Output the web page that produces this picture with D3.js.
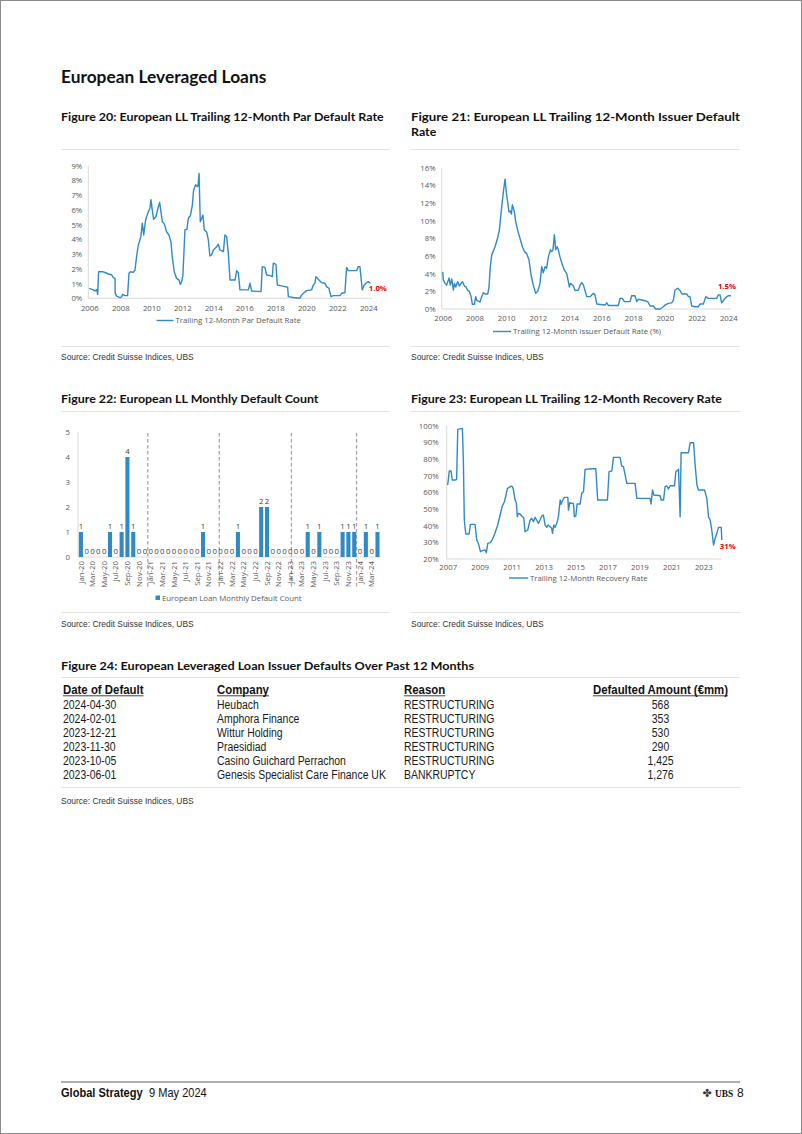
<!DOCTYPE html>
<html><head><meta charset="utf-8">
<script src="https://cdn.jsdelivr.net/npm/d3@7"></script>
<style>
html,body{margin:0;padding:0;background:#fff}
svg{display:block}
</style></head><body>
<svg id="page" width="802" height="1134"></svg>
<script>
// ---------------- DATA ----------------
const parYearTicks = [2006,2008,2010,2012,2014,2016,2018,2020,2022,2024];
const parRateTicks = [0,1,2,3,4,5,6,7,8,9];
const parRate = [ // [year, % par default rate]
[2006.0,0.68],[2006.26,0.57],[2006.37,0.5],[2006.47,0.6],[2006.54,0.27],[2006.6,1.8],[2006.9,1.8],[2007.01,1.75],
[2007.23,1.65],[2007.44,1.6],[2007.55,1.4],[2007.66,1.35],[2007.67,0.35],[2007.76,0.15],[2007.98,0.05],[2008.09,0.1],
[2008.15,0.27],[2008.3,0.18],[2008.47,0.18],[2008.56,1.7],[2008.65,1.8],[2008.84,1.76],[2008.95,1.92],[2009.05,2.83],
[2009.16,3.6],[2009.33,4.2],[2009.42,5.1],[2009.51,4.3],[2009.63,5.3],[2009.76,5.75],[2009.91,6.1],[2009.98,6.7],
[2010.06,6.0],[2010.15,5.36],[2010.3,5.55],[2010.45,6.2],[2010.54,6.5],[2010.62,5.9],[2010.71,5.2],[2010.84,5.05],
[2010.99,4.5],[2011.14,4.3],[2011.27,3.8],[2011.35,2.83],[2011.48,1.8],[2011.63,1.35],[2011.78,1.25],[2011.87,0.95],
[2011.96,1.13],[2012.04,1.58],[2012.17,4.64],[2012.3,4.68],[2012.39,5.43],[2012.52,5.6],[2012.65,6.33],[2012.73,7.35],
[2012.86,7.7],[2012.99,7.58],[2013.03,7.8],[2013.08,8.48],[2013.16,5.2],[2013.25,5.43],[2013.33,5.65],[2013.42,4.64],
[2013.57,4.5],[2013.68,3.96],[2013.78,2.87],[2013.89,2.94],[2014.0,3.28],[2014.22,3.5],[2014.32,3.67],[2014.43,3.28],
[2014.65,3.17],[2014.75,4.3],[2014.86,4.2],[2014.97,3.05],[2015.08,1.24],[2015.4,1.24],[2015.51,1.88],[2015.61,1.74],
[2015.72,0.57],[2016.26,0.57],[2016.37,1.02],[2016.47,0.5],[2017.08,0.45],[2017.16,2.15],[2017.33,2.1],[2017.44,1.58],
[2017.72,1.52],[2017.81,1.47],[2017.87,2.38],[2018.04,2.3],[2018.13,0.9],[2018.41,0.84],[2018.62,0.79],[2018.8,0.75],
[2018.84,0.11],[2019.16,0.05],[2019.59,0.0],[2019.7,0.23],[2019.81,0.34],[2020.02,0.52],[2020.34,0.57],[2020.45,0.9],
[2020.56,1.02],[2020.62,1.47],[2020.77,1.29],[2020.99,1.06],[2021.2,1.02],[2021.31,0.79],[2021.46,0.68],[2021.59,0.11],
[2021.74,0.18],[2022.17,0.18],[2022.28,0.34],[2022.49,0.38],[2022.6,2.1],[2022.71,1.88],[2023.03,1.88],[2023.25,1.88],
[2023.35,2.15],[2023.46,2.15],[2023.61,0.57],[2023.74,0.9],[2023.89,1.06],[2024.0,1.13],[2024.13,1.02]];
const parLatestLabel = "1.0%";

const issuerYearTicks = [2006,2008,2010,2012,2014,2016,2018,2020,2022,2024];
const issuerRateTicks = [0,2,4,6,8,10,12,14,16];
const issuerRate = [ // [year, % issuer default rate]
[2006.0,4.2],[2006.04,3.3],[2006.15,2.9],[2006.25,2.7],[2006.32,3.1],[2006.4,3.5],[2006.48,2.7],[2006.57,3.4],
[2006.67,2.15],[2006.74,2.9],[2006.82,2.5],[2006.95,3.1],[2007.05,2.6],[2007.16,2.9],[2007.24,3.1],[2007.37,2.6],
[2007.47,2.5],[2007.58,2.1],[2007.68,2.0],[2007.79,1.4],[2007.87,0.53],[2008.0,0.53],[2008.08,1.4],[2008.16,0.94],
[2008.35,0.8],[2008.46,1.4],[2008.56,1.85],[2008.67,1.7],[2008.84,1.7],[2008.92,2.5],[2009.0,4.8],[2009.09,6.1],
[2009.3,7.05],[2009.47,8.1],[2009.57,8.9],[2009.72,11.6],[2009.84,13.5],[2009.93,14.7],[2009.99,13.5],[2010.1,12.0],
[2010.18,11.0],[2010.26,11.1],[2010.33,10.75],[2010.39,11.8],[2010.52,11.0],[2010.6,9.9],[2010.73,8.9],[2010.87,8.0],
[2011.02,7.05],[2011.15,6.5],[2011.29,6.3],[2011.44,5.55],[2011.57,3.85],[2011.71,2.7],[2011.86,1.77],[2011.99,2.0],
[2012.13,2.9],[2012.24,4.8],[2012.34,4.1],[2012.45,4.8],[2012.55,4.6],[2012.66,5.9],[2012.79,6.7],[2012.87,6.5],
[2012.95,6.7],[2013.04,8.4],[2013.12,6.7],[2013.21,7.05],[2013.29,6.7],[2013.39,5.9],[2013.54,5.0],[2013.67,4.4],
[2013.82,4.0],[2013.92,3.1],[2013.98,2.5],[2014.05,2.9],[2014.24,2.6],[2014.34,2.1],[2014.55,2.15],[2014.66,2.7],
[2014.76,3.0],[2014.87,2.7],[2015.08,1.4],[2015.29,1.4],[2015.5,1.77],[2015.6,1.6],[2015.71,0.57],[2016.23,0.45],
[2016.34,0.7],[2016.44,0.4],[2017.07,0.4],[2017.18,1.2],[2017.32,1.2],[2017.45,0.83],[2017.81,0.83],[2017.91,1.5],
[2018.12,1.5],[2018.23,0.83],[2018.33,1.1],[2018.75,0.94],[2018.92,0.83],[2019.07,0.34],[2019.28,0.34],[2019.42,0.0],
[2019.7,0.0],[2019.91,0.26],[2020.01,0.45],[2020.22,0.64],[2020.43,0.7],[2020.54,1.0],[2020.64,2.15],[2020.81,2.34],
[2020.96,2.1],[2021.07,1.7],[2021.38,1.7],[2021.49,1.4],[2021.59,1.4],[2021.69,0.34],[2021.9,0.26],[2022.11,0.26],
[2022.22,0.57],[2022.43,0.57],[2022.58,1.4],[2022.74,1.2],[2023.27,1.2],[2023.37,1.6],[2023.48,1.6],[2023.58,0.7],
[2023.69,0.94],[2023.79,1.2],[2023.9,1.4],[2024.0,1.5],[2024.17,1.5]];
const issuerLatestLabel = "1.5%";

const months = ["Jan-20","Feb-20","Mar-20","Apr-20","May-20","Jun-20","Jul-20","Aug-20","Sep-20","Oct-20","Nov-20","Dec-20",
"Jan-21","Feb-21","Mar-21","Apr-21","May-21","Jun-21","Jul-21","Aug-21","Sep-21","Oct-21","Nov-21","Dec-21",
"Jan-22","Feb-22","Mar-22","Apr-22","May-22","Jun-22","Jul-22","Aug-22","Sep-22","Oct-22","Nov-22","Dec-22",
"Jan-23","Feb-23","Mar-23","Apr-23","May-23","Jun-23","Jul-23","Aug-23","Sep-23","Oct-23","Nov-23","Dec-23",
"Jan-24","Feb-24","Mar-24","Apr-24"];
const defaultCounts = [1,0,0,0,0,1,0,1,4,1,0,0, 0,0,0,0,0,0,0,0,0,1,0,0, 0,0,0,1,0,0,0,2,2,0,0,0, 0,0,0,1,0,1,0,0,0,1,1,1, 0,1,0,1];
const countTicks = [0,1,2,3,4,5];
const yearDividers = [11.5, 23.8, 36.2, 47.4]; // month-index positions of dashed separators

const recYearTicks = [2007,2009,2011,2013,2015,2017,2019,2021,2023];
const recRateTicks = [20,30,40,50,60,70,80,90,100];
const recoveryRate = [ // [year, % recovery]
[2007.0,64.4],[2007.1,72.8],[2007.21,72.8],[2007.29,67.4],[2007.5,67.4],[2007.56,67.8],[2007.63,97.8],[2007.92,98.4],
[2007.98,79.4],[2008.04,43.4],[2008.13,35.0],[2008.34,35.0],[2008.42,40.8],[2008.71,40.8],[2008.82,31.4],[2008.92,29.4],
[2009.05,24.4],[2009.17,25.0],[2009.34,25.4],[2009.42,23.8],[2009.51,29.4],[2009.67,29.8],[2009.8,31.8],[2009.96,35.4],
[2010.13,40.4],[2010.28,46.4],[2010.42,51.8],[2010.55,54.4],[2010.65,58.4],[2010.74,62.4],[2010.86,63.0],[2010.97,63.8],
[2011.05,63.4],[2011.11,61.8],[2011.22,55.4],[2011.3,53.4],[2011.36,45.4],[2011.43,47.4],[2011.53,47.0],[2011.63,45.8],
[2011.76,44.8],[2011.84,36.4],[2012.01,37.4],[2012.16,43.4],[2012.26,44.4],[2012.37,42.4],[2012.47,45.0],[2012.57,43.4],
[2012.68,41.4],[2012.78,43.4],[2012.89,45.8],[2012.99,46.4],[2013.1,40.4],[2013.2,39.0],[2013.3,40.4],[2013.41,39.4],
[2013.51,38.4],[2013.56,35.4],[2013.64,40.4],[2013.72,39.0],[2013.83,41.4],[2013.93,45.4],[2014.04,55.4],[2014.1,52.8],
[2014.18,55.0],[2014.31,57.0],[2014.52,57.0],[2014.56,49.4],[2014.64,53.8],[2014.77,53.4],[2014.87,53.4],[2014.93,45.4],
[2015.02,45.8],[2015.1,53.0],[2015.29,53.0],[2015.39,59.4],[2015.5,60.4],[2015.6,73.8],[2016.02,74.2],[2016.27,74.2],
[2016.39,55.4],[2017.0,55.4],[2017.1,72.4],[2017.27,72.8],[2017.38,81.0],[2017.79,81.0],[2017.9,75.8],[2018.0,75.4],
[2018.11,70.4],[2018.21,65.4],[2018.73,65.4],[2018.84,56.4],[2019.67,56.4],[2019.73,53.0],[2019.82,61.4],[2019.9,58.4],
[2020.3,58.0],[2020.36,55.4],[2020.51,55.4],[2020.61,63.4],[2020.72,63.8],[2020.82,62.0],[2020.92,64.0],[2021.2,64.0],
[2021.28,72.4],[2021.45,73.8],[2021.55,45.4],[2021.61,83.8],[2022.07,83.8],[2022.18,89.8],[2022.39,89.8],[2022.49,76.4],
[2022.6,64.4],[2022.7,61.4],[2023.08,61.4],[2023.22,56.4],[2023.33,45.0],[2023.43,43.4],[2023.53,37.4],[2023.64,28.4],
[2023.74,32.4],[2023.85,35.4],[2023.95,39.0],[2024.12,39.0],[2024.16,31.4]];
const recLatestLabel = "31%";

const tableHeaders = ["Date of Default","Company","Reason","Defaulted Amount (€mm)"];
const defaultDates = ["2024-04-30","2024-02-01","2023-12-21","2023-11-30","2023-10-05","2023-06-01"];
const defaultCompanies = ["Heubach","Amphora Finance","Wittur Holding","Praesidiad","Casino Guichard Perrachon","Genesis Specialist Care Finance UK"];
const defaultReasons = ["RESTRUCTURING","RESTRUCTURING","RESTRUCTURING","RESTRUCTURING","RESTRUCTURING","BANKRUPTCY"];
const defaultAmounts = ["568","353","530","290","1,425","1,276"];

// ---------------- STYLE ----------------
const BLUE = "#2f8ac6";
const RED = "#e60000";
const TICK = "#595959";
const AXIS = "#d0d0d0";
const RULE = "#e3e3e3";
const F_TITLE = "Lato, 'Open Sans', sans-serif";
const F_BODY = "'Liberation Sans', Arial, sans-serif";
const F_CHART = "'Open Sans', 'Noto Sans', sans-serif";
const CHART_FS = 7.8;

const svg = d3.select("#page");
svg.append("rect").attr("x",0).attr("y",0).attr("width",802).attr("height",1134).attr("fill","#fff");
svg.append("rect").attr("x",0.5).attr("y",0.5).attr("width",801).attr("height",1133)
   .attr("fill","none").attr("stroke","#8c8c8c").attr("stroke-width",1);

function text(x,y,str,opt={}){
  const t = svg.append("text").attr("x",x).attr("y",y).text(str)
    .attr("font-family",opt.family||F_BODY).attr("font-size",opt.size||9)
    .attr("font-weight",opt.weight||"normal").attr("fill",opt.fill||"#1a1a1a")
    .attr("text-anchor",opt.anchor||"start");
  if(opt.len) t.attr("textLength",opt.len).attr("lengthAdjust",opt.adjust||"spacing");
  if(opt.squeeze){ // scale glyph widths by a factor (condense / expand)
    const w = t.node().getComputedTextLength();
    t.attr("textLength",w*opt.squeeze).attr("lengthAdjust","spacingAndGlyphs");
  }
  return t;
}
function hline(x1,x2,y,color,w){
  svg.append("line").attr("x1",x1).attr("x2",x2).attr("y1",y).attr("y2",y)
    .attr("stroke",color).attr("stroke-width",w||1);
}

// ---------------- PAGE TEXT ----------------
const SRC = {size:9.4,fill:"#333",squeeze:0.9};
const FIG = {family:F_TITLE,size:11,weight:"bold",fill:"#111",squeeze:1.13};
text(61,83,"European Leveraged Loans",{family:F_TITLE,size:16.5,weight:"bold",fill:"#111",squeeze:1.05});
text(61,121,"Figure 20: European LL Trailing 12-Month Par Default Rate",FIG);
text(411,121,"Figure 21: European LL Trailing 12-Month Issuer Default",{family:F_TITLE,size:11,weight:"bold",fill:"#111",len:329,adjust:"spacingAndGlyphs"});
text(411,136,"Rate",FIG);
hline(61,390,149.5,RULE); hline(411,740,149.5,RULE);
hline(61,390,346.5,RULE); hline(411,740,346.5,RULE);
text(61,360,"Source: Credit Suisse Indices, UBS",SRC);
text(411,360,"Source: Credit Suisse Indices, UBS",SRC);
text(61,403,"Figure 22: European LL Monthly Default Count",FIG);
text(411,403,"Figure 23: European LL Trailing 12-Month Recovery Rate",FIG);
hline(61,390,411.5,RULE); hline(411,740,411.5,RULE);
hline(61,390,612.5,RULE); hline(411,740,612.5,RULE);
text(61,627,"Source: Credit Suisse Indices, UBS",SRC);
text(411,627,"Source: Credit Suisse Indices, UBS",SRC);

// ---------------- LINE CHART HELPER ----------------
function lineChart(cfg){
  const g = svg.append("g");
  const x = d3.scaleLinear().domain(cfg.xDomain).range(cfg.xRange);
  const y = d3.scaleLinear().domain(cfg.yDomain).range(cfg.yRange);
  g.append("line").attr("x1",cfg.axisX).attr("x2",cfg.axisX).attr("y1",cfg.yRange[1]).attr("y2",cfg.yRange[0])
    .attr("stroke",AXIS).attr("stroke-width",0.8);
  g.append("line").attr("x1",cfg.axisX).attr("x2",cfg.axisRight).attr("y1",cfg.yRange[0]).attr("y2",cfg.yRange[0])
    .attr("stroke",AXIS).attr("stroke-width",0.8);
  const ya = g.append("g").attr("transform",`translate(${cfg.axisX},0)`)
    .call(d3.axisLeft(y).tickValues(cfg.yTicks).tickSize(0).tickPadding(cfg.yPad).tickFormat(d=>d+"%"));
  ya.select(".domain").remove();
  ya.selectAll("text").attr("font-family",F_CHART).attr("font-size",CHART_FS).attr("fill",TICK);
  const xa = g.append("g").attr("transform",`translate(0,${cfg.yRange[0]})`)
    .call(d3.axisBottom(x).tickValues(cfg.xTicks).tickSize(0).tickPadding(cfg.xPad).tickFormat(d3.format("d")));
  xa.select(".domain").remove();
  xa.selectAll("text").attr("font-family",F_CHART).attr("font-size",CHART_FS).attr("fill",TICK);
  g.append("path").datum(cfg.data)
    .attr("d",d3.line().x(d=>x(d[0])).y(d=>y(d[1])))
    .attr("fill","none").attr("stroke",BLUE).attr("stroke-width",1.4).attr("stroke-linejoin","round");
  const last = cfg.data[cfg.data.length-1];
  g.append("text").attr("x",x(last[0])+cfg.lblDx).attr("y",y(last[1])+cfg.lblDy).text(cfg.label)
    .attr("font-family",F_CHART).attr("font-size",7.8).attr("font-weight","bold").attr("fill",RED)
    .attr("text-anchor","middle");
  g.append("line").attr("x1",cfg.legX).attr("x2",cfg.legX+cfg.legW).attr("y1",cfg.legY).attr("y2",cfg.legY)
    .attr("stroke",BLUE).attr("stroke-width",1.4);
  g.append("text").attr("x",cfg.legX+cfg.legW+2).attr("y",cfg.legY+2.8).text(cfg.legend)
    .attr("font-family",F_CHART).attr("font-size",CHART_FS).attr("fill",TICK);
}

lineChart({data:parRate, xDomain:[2006,2024], xRange:[89.3,368.3], yDomain:[0,9], yRange:[298.3,165.7],
  axisX:88.3, axisRight:372, yTicks:parRateTicks, xTicks:parYearTicks, yPad:6, xPad:7,
  label:parLatestLabel, lblDx:7.5, lblDy:8, legX:156.5, legW:17, legY:320.5,
  legend:"Trailing 12-Month Par Default Rate"});

lineChart({data:issuerRate, xDomain:[2006,2024], xRange:[442.7,728.3], yDomain:[0,16], yRange:[309,167.7],
  axisX:441.7, axisRight:731, yTicks:issuerRateTicks, xTicks:issuerYearTicks, yPad:6, xPad:6,
  label:issuerLatestLabel, lblDx:-4, lblDy:-6.3, legX:493, legW:18, legY:331.5,
  legend:"Trailing 12-Month Issuer Default Rate (%)"});

lineChart({data:recoveryRate, xDomain:[2007,2023], xRange:[447.7,703.3], yDomain:[20,100], yRange:[559,425.7],
  axisX:446.7, axisRight:722, yTicks:recRateTicks, xTicks:recYearTicks, yPad:8, xPad:5.5,
  label:recLatestLabel, lblDx:6, lblDy:8.5, legX:509, legW:19, legY:578,
  legend:"Trailing 12-Month Recovery Rate"});

// ---------------- BAR CHART ----------------
(function(){
  const g = svg.append("g");
  const x = d3.scaleBand().domain(months).range([78,380.4]).paddingInner(0.3).paddingOuter(0.15);
  const y = d3.scaleLinear().domain([0,5]).range([557,432]);
  const step = x.step();
  const cx = i => x(months[i]) + x.bandwidth()/2;
  g.append("line").attr("x1",78).attr("x2",78).attr("y1",432).attr("y2",557).attr("stroke",AXIS).attr("stroke-width",0.8);
  g.append("line").attr("x1",78).attr("x2",381).attr("y1",557).attr("y2",557).attr("stroke",AXIS).attr("stroke-width",0.8);
  const ya = g.append("g").attr("transform","translate(78,0)")
    .call(d3.axisLeft(y).tickValues(countTicks).tickSize(0).tickPadding(8).tickFormat(d3.format("d")));
  ya.select(".domain").remove();
  ya.selectAll("text").attr("font-family",F_CHART).attr("font-size",CHART_FS).attr("fill",TICK);
  g.selectAll("line.div").data(yearDividers).enter().append("line").attr("class","div")
    .attr("x1",d=>cx(Math.floor(d))+(d-Math.floor(d))*step).attr("x2",d=>cx(Math.floor(d))+(d-Math.floor(d))*step)
    .attr("y1",433).attr("y2",589).attr("stroke","#a6a6a6").attr("stroke-width",1.3).attr("stroke-dasharray","3.5,2.5");
  g.selectAll("rect.bar").data(defaultCounts).enter().append("rect").attr("class","bar")
    .attr("x",(d,i)=>x(months[i])).attr("width",x.bandwidth())
    .attr("y",d=>y(d)).attr("height",d=>y(0)-y(d)).attr("fill",BLUE);
  g.selectAll("text.val").data(defaultCounts).enter().append("text").attr("class","val")
    .attr("x",(d,i)=>cx(i)).attr("y",d=>y(d)-3).text(d=>d)
    .attr("text-anchor","middle").attr("font-family",F_CHART).attr("font-size",CHART_FS).attr("fill","#404040");
  g.selectAll("text.xl").data(months.filter((m,i)=>i%2===0)).enter().append("text").attr("class","xl")
    .attr("transform",m=>`translate(${x(m)+x.bandwidth()/2+2.6},561) rotate(-90)`)
    .attr("text-anchor","end").text(m=>m)
    .attr("font-family",F_CHART).attr("font-size",CHART_FS).attr("fill",TICK);
  g.append("rect").attr("x",155.5).attr("y",595.5).attr("width",4.5).attr("height",4.5).attr("fill",BLUE);
  g.append("text").attr("x",162).attr("y",600.8).text("European Loan Monthly Default Count")
    .attr("font-family",F_CHART).attr("font-size",CHART_FS).attr("fill",TICK);
})();

// ---------------- TABLE ----------------
text(61,670,"Figure 24: European Leveraged Loan Issuer Defaults Over Past 12 Months",{family:F_TITLE,size:11,weight:"bold",fill:"#111",len:413,adjust:"spacingAndGlyphs"});
hline(61,740,677.5,RULE);
const colX = [63,217,404,660.5];
const colAnchor = ["start","start","start","middle"];
tableHeaders.forEach((h,i)=>{
  const t = text(colX[i],694,h,{size:12,weight:"bold",fill:"#111",anchor:colAnchor[i],squeeze:0.95});
  const w = t.node().getComputedTextLength();
  const x0 = colAnchor[i]==="middle" ? colX[i]-w/2 : colX[i];
  hline(x0,x0+w,695.8,"#111",0.8);
});
const rowY = d3.scaleBand().domain(d3.range(defaultDates.length)).range([698,782]);
const CELL = {size:12,squeeze:0.87};
defaultDates.forEach((d,i)=>{
  const yy = rowY(i)+rowY.bandwidth()/2+4;
  text(colX[0],yy,d,CELL);
  text(colX[1],yy,defaultCompanies[i],CELL);
  text(colX[2],yy,defaultReasons[i],CELL);
  text(colX[3],yy,defaultAmounts[i],Object.assign({anchor:"middle"},CELL));
});
hline(61,740,787.5,RULE);
text(61,804,"Source: Credit Suisse Indices, UBS",SRC);

// ---------------- FOOTER ----------------
hline(61,740,1082,"#333",0.8);
text(61,1097,"Global Strategy",{size:12,weight:"bold",fill:"#111",squeeze:0.92});
text(149,1097,"9 May 2024",{size:12,fill:"#111",squeeze:0.92});
text(707,1097,"✤",{family:"'DejaVu Sans', sans-serif",size:11,fill:"#333",anchor:"middle"});
text(715,1097,"UBS",{family:"'Liberation Serif', serif",size:11,weight:"bold",fill:"#111",squeeze:0.85});
text(737,1097,"8",{size:12,fill:"#111"});
</script>
</body></html>
